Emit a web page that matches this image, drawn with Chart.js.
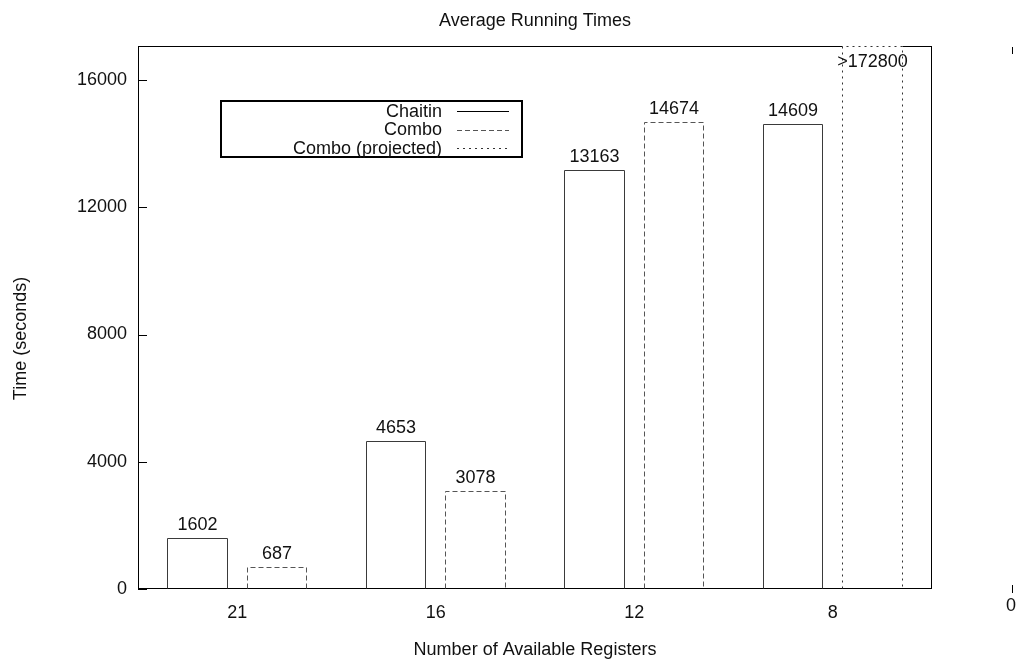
<!DOCTYPE html>
<html><head><meta charset="utf-8">
<script src="https://cdn.jsdelivr.net/npm/chart.js@4/dist/chart.umd.min.js"></script>
<style>html,body{margin:0;padding:0;background:#fff;}#wrap{width:1021px;height:665px;}</style>
</head><body><div id="wrap"><canvas id="c" width="1021" height="665"></canvas></div>
<script>
const categories = ['21', '16', '12', '8'];
const chaitin = [1602, 4653, 13163, 14609];
const combo = [687, 3078, 14674, null];
const comboProjected = [null, null, null, 172800];
const yTicks = [0, 4000, 8000, 12000, 16000];
const seriesNames = ['Chaitin', 'Combo', 'Combo (projected)'];
const labelPrefixes = ['', '', '>'];
const titleText = 'Average Running Times';
const xTitle = 'Number of Available Registers';
const yTitle = 'Time (seconds)';
const yMax = 17070;

const FONT = '"Liberation Sans", Arial, sans-serif';
const dashes = [[], [5, 3], [2, 4]];
const strokes = ['#3a3a3a', '#555', '#333'];

const decor = {
  id: 'decor',
  afterDatasetsDraw(chart) {
    const ctx = chart.ctx, a = chart.chartArea;
    const ys = chart.scales.y;
    ctx.save();
    // frame
    ctx.strokeStyle = '#000'; ctx.lineWidth = 1; ctx.setLineDash([]);
    ctx.strokeRect(a.left + 0.5, a.top + 0.5, a.right - a.left - 1, a.bottom - a.top - 1);
    // inward y ticks
    yTicks.forEach(v => {
      const py = Math.round(ys.getPixelForValue(v)) + 0.5;
      ctx.beginPath(); ctx.moveTo(a.left, py); ctx.lineTo(a.left + 9, py); ctx.stroke();
    });
    // bar outlines
    chart.data.datasets.forEach((ds, di) => {
      const meta = chart.getDatasetMeta(di);
      ctx.save();
      ctx.beginPath(); ctx.rect(a.left, a.top, a.right - a.left, a.bottom - a.top); ctx.clip();
      meta.data.forEach((el, i) => {
        if (ds.data[i] == null) return;
        const p = el.getProps(['x', 'y', 'base', 'width'], true);
        const l = Math.round(p.x - p.width / 2) + 0.5, r = Math.round(p.x + p.width / 2) - 0.5;
        const t = Math.round(Math.max(p.y, a.top)) + 0.5, b = Math.round(p.base) - 0.5;
        if (p.y < a.top) {
          ctx.setLineDash([]); ctx.strokeStyle = '#fff'; ctx.lineWidth = 1;
          ctx.beginPath(); ctx.moveTo(l, t); ctx.lineTo(r, t); ctx.stroke();
        }
        ctx.strokeStyle = strokes[di]; ctx.lineWidth = 1; ctx.setLineDash(dashes[di]);
        ctx.beginPath();
        ctx.moveTo(l, b); ctx.lineTo(l, t); ctx.lineTo(r, t); ctx.lineTo(r, b);
        ctx.stroke();
      });
      ctx.restore();
      // value labels
      ctx.fillStyle = '#111'; ctx.font = '18px ' + FONT; ctx.textAlign = 'center'; ctx.textBaseline = 'alphabetic';
      meta.data.forEach((el, i) => {
        const v = ds.data[i];
        if (v == null) return;
        const p = el.getProps(['x', 'y'], true);
        const ty = p.y < a.top ? a.top + 21 : p.y - 8;
        ctx.fillText(labelPrefixes[di] + v, p.x, ty);
      });
    });
    // legend
    ctx.setLineDash([]);
    ctx.lineWidth = 2; ctx.strokeStyle = '#000';
    ctx.strokeRect(221, 101, 301, 56);
    ctx.font = '18px ' + FONT; ctx.textAlign = 'right'; ctx.textBaseline = 'middle'; ctx.fillStyle = '#111';
    seriesNames.forEach((n, i) => {
      const yy = 111 + i * 18.5;
      ctx.fillText(n, 442, yy + 1);
      ctx.lineWidth = 1; ctx.strokeStyle = i === 0 ? '#000' : strokes[i]; ctx.setLineDash(dashes[i]);
      ctx.beginPath(); ctx.moveTo(457, Math.round(yy) + 0.5); ctx.lineTo(509, Math.round(yy) + 0.5); ctx.stroke();
    });
    ctx.setLineDash([]);
    // titles
    const cx = (a.left + a.right) / 2;
    ctx.textAlign = 'center'; ctx.textBaseline = 'alphabetic'; ctx.fillStyle = '#111';
    ctx.font = '18px ' + FONT;
    ctx.fillText(titleText, cx, 26);
    ctx.fillText(xTitle, cx, 655);
    ctx.save(); ctx.translate(26, 338.5); ctx.rotate(-Math.PI / 2); ctx.fillText(yTitle, 0, 0); ctx.restore();
    // stray right-side marks
    ctx.strokeStyle = '#000'; ctx.lineWidth = 1;
    ctx.beginPath(); ctx.moveTo(1012.5, 47); ctx.lineTo(1012.5, 54); ctx.stroke();
    ctx.beginPath(); ctx.moveTo(1012.5, 585); ctx.lineTo(1012.5, 593); ctx.stroke();
    ctx.textBaseline = 'middle';
    ctx.fillText('0', 1011, 606);
    ctx.restore();
  }
};

new Chart(document.getElementById('c'), {
  type: 'bar',
  data: {
    labels: categories,
    datasets: [
      { label: seriesNames[0], data: chaitin, stack: 'a' },
      { label: seriesNames[1], data: combo, stack: 'b' },
      { label: seriesNames[2], data: comboProjected, stack: 'b' }
    ].map(d => Object.assign(d, { backgroundColor: 'rgba(0,0,0,0)', borderWidth: 0, categoryPercentage: 0.8, barPercentage: 0.76 }))
  },
  options: {
    responsive: false, animation: false, devicePixelRatio: 1,
    layout: { padding: { top: 46, right: 89, left: 0, bottom: 0 } },
    plugins: { legend: { display: false }, tooltip: { enabled: false }, title: { display: false } },
    scales: {
      x: {
        stacked: true,
        grid: { display: false, drawTicks: false }, border: { display: false },
        ticks: { font: { size: 18, family: FONT }, color: '#111', padding: 13, maxRotation: 0 },
        afterFit: s => { s.height = 76; }
      },
      y: {
        stacked: true, min: 0, max: yMax,
        grid: { display: false, drawTicks: false }, border: { display: false },
        ticks: { font: { size: 18, family: FONT }, color: '#111', padding: 11, callback: v => String(v) },
        afterBuildTicks: s => { s.ticks = yTicks.map(v => ({ value: v })); },
        afterFit: s => { s.width = 138; }
      }
    }
  },
  plugins: [decor]
});
</script></body></html>
